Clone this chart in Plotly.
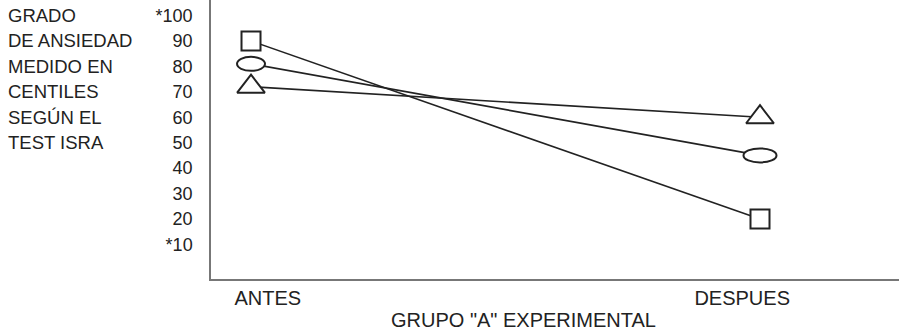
import plotly.graph_objects as go

# ---- data ----
categories = ["ANTES", "DESPUES"]
square_values = [90, 20]
ellipse_values = [81, 45]
triangle_values = [72, 60]
y_tick_values = [100, 90, 80, 70, 60, 50, 40, 30, 20, 10]
y_tick_labels = ["*100", "90", "80", "70", "60", "50", "40", "30", "20", "*10"]
y_title_lines = ["GRADO", "DE ANSIEDAD", "MEDIDO EN", "CENTILES", "SEGÚN EL", "TEST ISRA"]
x_title = 'GRUPO "A" EXPERIMENTAL'

FONT = "Liberation Sans, Arial, sans-serif"
INK = "#222222"
x_pos = list(range(len(categories)))

fig = go.Figure()

fig.add_trace(go.Scatter(
    x=x_pos, y=square_values, mode="lines+markers",
    line=dict(color=INK, width=1.6),
    marker=dict(symbol="square", size=19, color="white", line=dict(color=INK, width=2)),
    showlegend=False, hoverinfo="skip"))

fig.add_trace(go.Scatter(
    x=x_pos, y=ellipse_values, mode="lines",
    line=dict(color=INK, width=1.6),
    showlegend=False, hoverinfo="skip"))

fig.add_trace(go.Scatter(
    x=x_pos, y=triangle_values, mode="lines+markers",
    line=dict(color=INK, width=1.6),
    marker=dict(symbol="triangle-up", size=24, color="white", line=dict(color=INK, width=2)),
    showlegend=False, hoverinfo="skip"))

# ellipse markers (no native ellipse symbol): pixel-sized shapes anchored at data points
ellipse_widths = [28, 33]
for xv, yv, w in zip(x_pos, ellipse_values, ellipse_widths):
    fig.add_shape(type="circle", xref="x", yref="y",
                  xsizemode="pixel", ysizemode="pixel",
                  xanchor=xv, yanchor=yv,
                  x0=-w / 2, x1=w / 2, y0=-7, y1=7,
                  line=dict(color=INK, width=2), fillcolor="white", layer="above")

# left multi-line axis description, one line per tick row
for line_text, tv in zip(y_title_lines, y_tick_values):
    fig.add_annotation(text=line_text, xref="paper", yref="y", x=-0.298, y=tv,
                       xanchor="left", yanchor="middle", showarrow=False,
                       font=dict(family=FONT, size=18.5, color=INK))

fig.add_annotation(text=x_title, xref="paper", yref="paper", x=0.4535, y=-0.147,
                   xanchor="center", yanchor="middle", showarrow=False,
                   font=dict(family=FONT, size=20, color=INK))

fig.update_layout(
    width=899, height=336,
    margin=dict(l=211, r=0, t=0, b=57),
    paper_bgcolor="white", plot_bgcolor="white",
    font=dict(family=FONT, color=INK),
    xaxis=dict(range=[-0.0786, 1.2731], showgrid=False, zeroline=False,
               showline=True, linecolor="#777777", linewidth=1.5,
               tickvals=[0.033, 0.965], ticktext=categories,
               ticks="", tickfont=dict(family=FONT, size=20, color=INK)),
    yaxis=dict(range=[-3.6, 106.1], showgrid=False, zeroline=False,
               showline=True, linecolor="#777777", linewidth=1.5,
               tickvals=y_tick_values, ticktext=y_tick_labels,
               ticks="", ticklabelstandoff=13,
               tickfont=dict(family=FONT, size=18, color=INK)),
)

fig.write_html("out.html",
               config={"displayModeBar": False},
               post_script="document.body.style.margin='0';document.body.style.padding='0';")
